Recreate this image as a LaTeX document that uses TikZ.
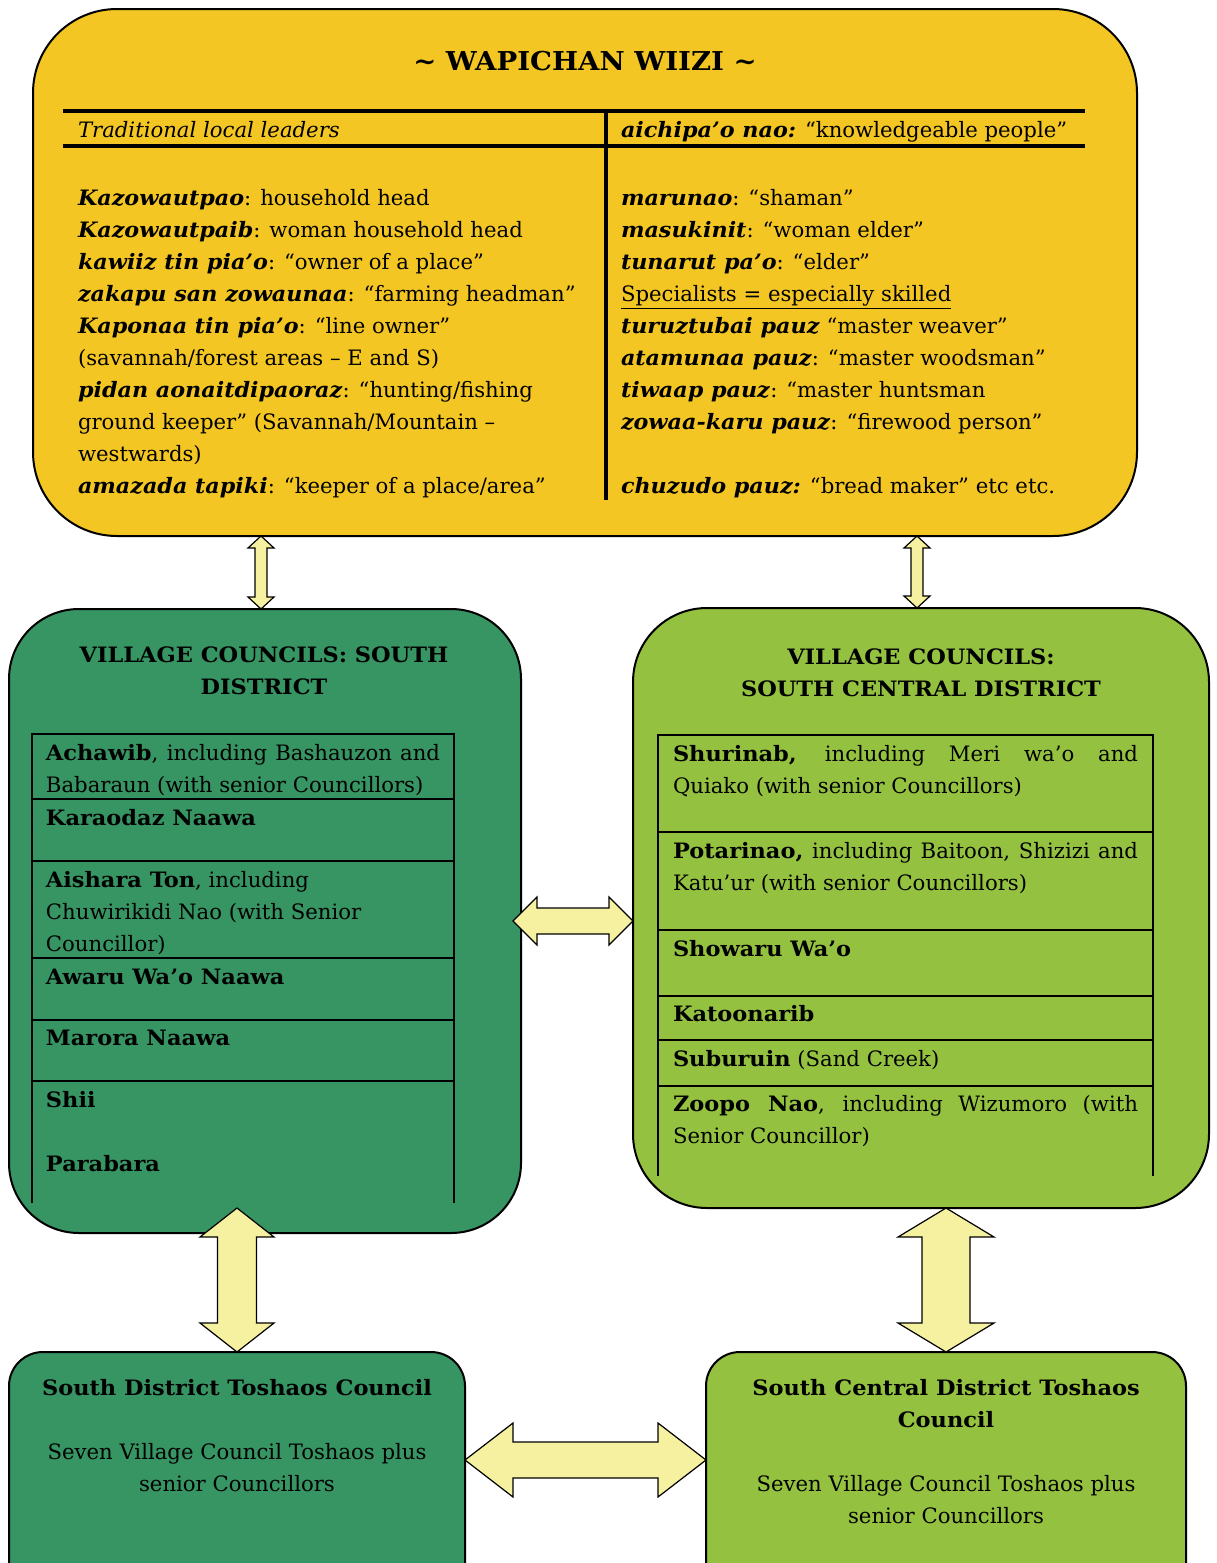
\documentclass[tikz,border=0pt]{standalone}
\usepackage{fontspec}
\setmainfont{DejaVu Serif}[BoldFeatures={FakeStretch=1.06},BoldItalicFeatures={FakeStretch=1.05}]
\usetikzlibrary{calc}
\definecolor{yel}{RGB}{243,198,35}
\definecolor{dgreen}{RGB}{55,148,99}
\definecolor{lgreen}{RGB}{148,194,64}
\definecolor{afill}{RGB}{246,241,160}
\newcommand\bi[1]{\textbf{\textit{#1}}}
\newcommand\vdarrow[5]{\draw[blk] let \p1=(#1), \p2=(#2) in
  (\x1,\y1) -- ({\x1+#4},{\y1-#5}) -- ({\x1+#3},{\y1-#5}) -- ({\x1+#3},{\y2+#5}) -- ({\x1+#4},{\y2+#5}) -- (\x1,\y2)
  -- ({\x1-#4},{\y2+#5}) -- ({\x1-#3},{\y2+#5}) -- ({\x1-#3},{\y1-#5}) -- ({\x1-#4},{\y1-#5}) -- cycle;}
\newcommand\hdarrow[5]{\draw[blk] let \p1=(#1), \p2=(#2) in
  (\x1,\y1) -- ({\x1+#5},{\y1+#4}) -- ({\x1+#5},{\y1+#3}) -- ({\x2-#5},{\y1+#3}) -- ({\x2-#5},{\y1+#4}) -- (\x2,\y1)
  -- ({\x2-#5},{\y1-#4}) -- ({\x2-#5},{\y1-#3}) -- ({\x1+#5},{\y1-#3}) -- ({\x1+#5},{\y1-#4}) -- cycle;}
\begin{document}
\begin{tikzpicture}[x=0.5pt,y=-0.5pt,
  box/.style={draw=black, line width=1pt, inner sep=0, outer sep=0},
  blk/.style={draw=black, fill=afill, line width=0.6pt, line join=miter},
  txt/.style={anchor=base west, inner sep=0, outer sep=0, font=\fontsize{10.6}{16}\selectfont},
  ctxt/.style={anchor=base, inner sep=0, outer sep=0, font=\fontsize{10.6}{16}\selectfont},
  thick rule/.style={line width=1.6pt},
  thin rule/.style={line width=0.6pt}]
\useasboundingbox (0,0) rectangle (1216,1563);
\clip (0,0) rectangle (1216,1563);
\fill[white] (0,0) rectangle (1216,1563);

% ---------- top box ----------
\node[box, fill=yel, rounded corners=42pt, minimum width=552pt, minimum height=263.5pt] (top) at (585,272.5) {};
\node[ctxt, font=\fontsize{13}{16}\selectfont\bfseries] (title) at (585,70) {\textasciitilde\ WAPICHAN WIIZI \textasciitilde};
\draw[thick rule] (63,111) -- (1085,111);
\draw[thick rule] (63,146) -- (1085,146);
\draw[thick rule] (606,111) -- (606,500);
\node[txt] (hl) at (78,137) {\textit{Traditional local leaders}};
\node[txt] (hr) at (621,137) {\bi{aichipa’o nao:} “knowledgeable people”};
\node[txt] (cl) at (78,205) {\parbox[t]{270pt}{%
\bi{Kazowautpao}: household head\\
\bi{Kazowautpaib}: woman household head\\
\bi{kawiiz tin pia’o}: “owner of a place”\\
\bi{zakapu san zowaunaa}: “farming headman”\\
\bi{Kaponaa tin pia’o}: “line owner”\\
(savannah/forest areas – E and S)\\
\bi{pidan aonaitdipaoraz}: “hunting/fishing\\
ground keeper” (Savannah/Mountain –\\
westwards)\\
\bi{amazada tapiki}: “keeper of a place/area”}};
\node[txt] (cr) at (621,205) {\parbox[t]{250pt}{%
\bi{marunao}: “shaman”\\
\bi{masukinit}: “woman elder”\\
\bi{tunarut pa’o}: “elder”\\
\underline{Specialists = especially skilled}\\
\bi{turuztubai pauz} “master weaver”\\
\bi{atamunaa pauz}: “master woodsman”\\
\bi{tiwaap pauz}: “master huntsman\\
\bi{zowaa-karu pauz}: “firewood person”\\
\mbox{}\\
\bi{chuzudo pauz:} “bread maker” etc etc.}};

% ---------- left middle box ----------
\node[box, fill=dgreen, rounded corners=35pt, minimum width=256pt, minimum height=312pt] (lm) at (265,921) {};
\node[ctxt, font=\fontsize{10.6}{16}\selectfont\bfseries] (lmt) at (264,662) {\parbox[t]{250pt}{\centering VILLAGE COUNCILS: SOUTH\\DISTRICT}};
\draw[thin rule] (32,1203) -- (32,734) -- (454,734) -- (454,1203);
\foreach \yy in {799,861,958,1020,1081} \draw[thin rule] (32,\yy) -- (454,\yy);
\node[txt] (l1) at (46,760) {\parbox[t]{197pt}{\makebox[197pt][s]{\textbf{Achawib}, including Bashauzon and}\\Babaraun (with senior Councillors)}};
\node[txt] (l2) at (46,825) {\textbf{Karaodaz Naawa}};
\node[txt] (l3) at (46,887) {\parbox[t]{197pt}{\textbf{Aishara Ton}, including\\Chuwirikidi Nao (with Senior\\Councillor)}};
\node[txt] (l4) at (46,984) {\textbf{Awaru Wa’o Naawa}};
\node[txt] (l5) at (46,1045) {\textbf{Marora Naawa}};
\node[txt] (l6) at (46,1107) {\textbf{Shii}};
\node[txt] (l7) at (46,1171) {\textbf{Parabara}};

% ---------- right middle box ----------
\node[box, fill=lgreen, rounded corners=37pt, minimum width=288pt, minimum height=300pt] (rm) at (921,908) {};
\node[ctxt, font=\fontsize{10.6}{16}\selectfont\bfseries] (rmt) at (921,664) {\parbox[t]{280pt}{\centering VILLAGE COUNCILS:\\SOUTH CENTRAL DISTRICT}};
\draw[thin rule] (658,1176) -- (658,735) -- (1153,735) -- (1153,1176);
\foreach \yy in {832,930,996,1040,1086} \draw[thin rule] (658,\yy) -- (1153,\yy);
\node[txt] (r1) at (673,761) {\parbox[t]{232.5pt}{\makebox[232.5pt][s]{\textbf{Shurinab,} including Meri wa’o and}\\Quiako (with senior Councillors)}};
\node[txt] (r2) at (673,858) {\parbox[t]{232.5pt}{\makebox[232.5pt][s]{\textbf{Potarinao,} including Baitoon, Shizizi and}\\Katu’ur (with senior Councillors)}};
\node[txt] (r3) at (673,956) {\textbf{Showaru Wa’o}};
\node[txt] (r4) at (673,1021) {\textbf{Katoonarib}};
\node[txt] (r5) at (673,1066) {\textbf{Suburuin} (Sand Creek)};
\node[txt] (r6) at (673,1111) {\parbox[t]{232.5pt}{\makebox[232.5pt][s]{\textbf{Zoopo Nao}, including Wizumoro (with}\\Senior Councillor)}};

% ---------- bottom boxes ----------
\node[box, fill=dgreen, rounded corners=17pt, minimum width=228pt, minimum height=129pt] (bl) at (237,1481) {};
\node[ctxt] (blt) at (237,1395) {\textbf{South District Toshaos Council}};
\node[ctxt] (bls) at (237,1459) {\parbox[t]{226pt}{\centering Seven Village Council Toshaos plus\\senior Councillors}};
\node[box, fill=lgreen, rounded corners=17pt, minimum width=240pt, minimum height=129pt] (br) at (946,1481) {};
\node[ctxt] (brt) at (946,1395) {\parbox[t]{236pt}{\centering\bfseries South Central District Toshaos\\Council}};
\node[ctxt] (brs) at (946,1491) {\parbox[t]{236pt}{\centering Seven Village Council Toshaos plus\\senior Councillors}};

% ---------- block arrows ----------
\vdarrow{[xshift=-2pt]top.south -| lm.north}{[xshift=-2pt]lm.north}{3pt}{6.5pt}{6pt}
\vdarrow{[xshift=-2pt]top.south -| rm.north}{[xshift=-2pt]rm.north}{3pt}{6.5pt}{6pt}
\hdarrow{[xshift=-4pt]lm.east}{lm.east -| rm.west}{6.5pt}{12pt}{12pt}
\vdarrow{[yshift=12.5pt]lm.south -| bl.north}{bl.north}{9.75pt}{18.5pt}{14.5pt}
\vdarrow{rm.south -| br.north}{br.north}{12pt}{24pt}{14.5pt}
\hdarrow{[yshift=10.5pt]bl.east}{[yshift=10.5pt]bl.east -| br.west}{9pt}{18.5pt}{24pt}
\end{tikzpicture}
\end{document}
